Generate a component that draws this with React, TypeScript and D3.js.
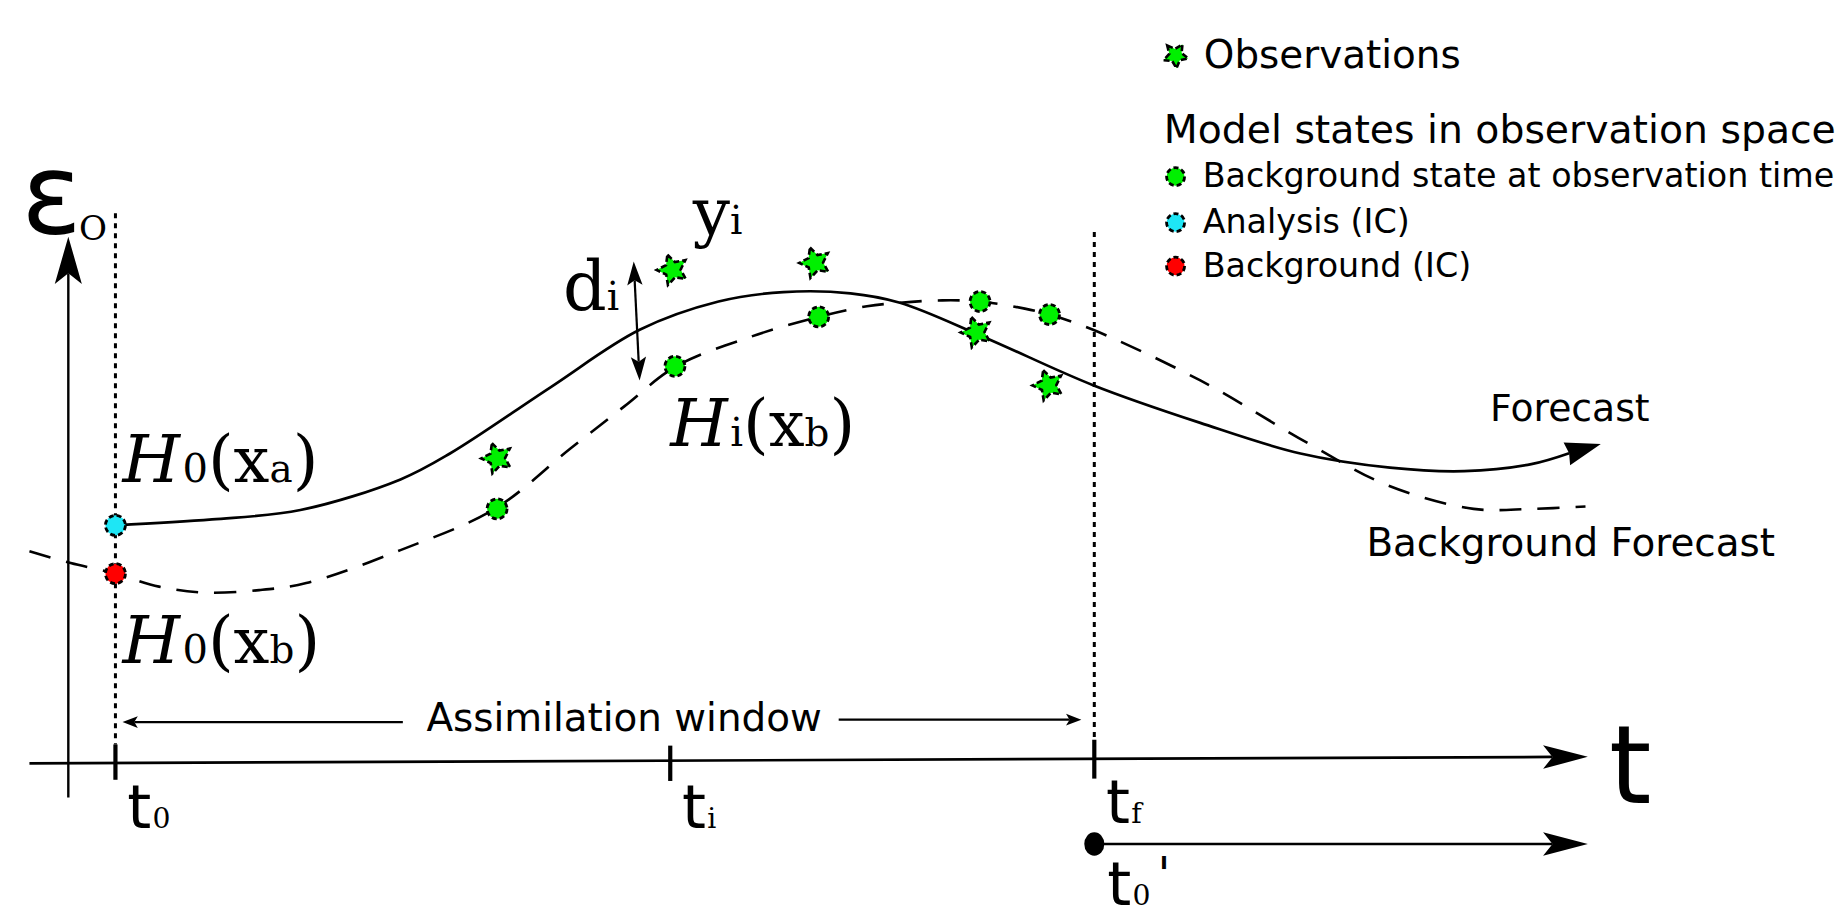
import React from 'react';
import * as d3 from 'd3';

const W = 1847;
const H = 907;
// the sketch was laid out on a 1568 x 770 grid, scales map it to the page
const GRID_W = 1568;
const GRID_H = 770;

// times on the t axis
const tickTimes = [98, 569, 929];
const tickSubs = ['0', 'i', 'f'];
const tickTops = [632, 633, 628];
const tickBottoms = [662, 663, 661];
const labelBaselines = [703, 703, 699];

// model trajectories (time, level)
const analysisCurve: [number, number][] = [
  [98, 446], [180, 441], [255, 433], [340, 407], [382, 385], [467, 329],
  [543, 280], [610, 256], [665, 248], [722, 249], [764, 257], [835, 286],
  [928, 327], [1019, 359], [1104, 385], [1180, 397], [1243, 400],
  [1300, 394], [1359, 377],
];
const backgroundCurve: [number, number][] = [
  [25, 468], [60, 478], [98, 487], [135, 498], [173, 503], [220, 501],
  [260, 495], [340, 467], [420, 432], [484, 381], [530, 345], [574, 311],
  [637, 286], [695, 269], [736, 260], [764, 257], [800, 255], [832, 256],
  [870, 262], [891, 267], [928, 280], [1019, 323], [1110, 376],
  [1178, 412], [1251, 432], [1300, 432], [1346, 430],
];

const observations: [number, number][] = [
  [422, 389], [571, 229], [692, 223], [829, 282], [890, 327],
];
const backgroundAtObs: [number, number][] = [
  [422, 432], [573, 311], [695, 269], [832, 256], [891, 267],
];
const analysisIC: [number, number] = [98, 446];
const backgroundIC: [number, number] = [98, 487];

const legendRows = ['Background state at observation time', 'Analysis (IC)', 'Background (IC)'];
const legendColors = ['#00f000', '#1ee6f5', '#ff0000'];
const legendRowY = [150, 189, 226];

const x = d3.scaleLinear().domain([0, GRID_W]).range([0, W]);
const y = d3.scaleLinear().domain([0, GRID_H]).range([0, H]);
const k = W / GRID_W;
const fs = (n: number) => n * k;

const SANS = 'DejaVu Sans';
const SERIF = 'DejaVu Serif';

const curve = d3
  .line<[number, number]>()
  .x(d => x(d[0]))
  .y(d => y(d[1]))
  .curve(d3.curveCatmullRom.alpha(0.5));

// arrow head with tip at `tip`, pointing away from `from` (grid units)
const arrowHead = (tip: number[], from: number[], len: number, half: number, notch: number) => {
  const tx = x(tip[0]), ty = y(tip[1]);
  const dx = tx - x(from[0]), dy = ty - y(from[1]);
  const n = Math.hypot(dx, dy);
  const ux = dx / n, uy = dy / n;
  const px = -uy, py = ux;
  const L = len * k, h = half * k, nt = notch * k;
  const bx = tx - ux * L, by = ty - uy * L;
  const nx = tx - ux * (L - nt), ny = ty - uy * (L - nt);
  return {
    d: `M${tx},${ty}L${bx + px * h},${by + py * h}L${nx},${ny}L${bx - px * h},${by - py * h}Z`,
    back: [nx, ny],
  };
};

// five pointed star, fatter than d3.symbolStar
const starPath = (R: number) =>
  d3
    .lineRadial<number>()
    .angle(i => (i * Math.PI) / 5)
    .radius(i => (i % 2 === 0 ? R : R * 0.5))
    .curve(d3.curveLinearClosed)(d3.range(10)) as string;

const Arrow = ({ from, tip, len, half, notch, width = 2.4 }) => {
  const a = arrowHead(tip, from, len, half, notch);
  return (
    <g>
      <line x1={x(from[0])} y1={y(from[1])} x2={a.back[0]} y2={a.back[1]} stroke="#000" strokeWidth={width} />
      <path d={a.d} fill="#000" />
    </g>
  );
};

const Dot = ({ p, color, r = 10 }) => (
  <circle cx={x(p[0])} cy={y(p[1])} r={r} fill={color} stroke="#000" strokeWidth={2.8} strokeDasharray="5 3" />
);

const Star = ({ p, R = 16, rot = -19 }) => (
  <path
    d={starPath(R)}
    transform={`translate(${x(p[0])},${y(p[1])}) rotate(${rot})`}
    fill="#00f000"
    stroke="#000"
    strokeWidth={2.6}
    strokeDasharray="6 3"
    strokeLinejoin="miter"
  />
);

// H_sub(x_arg) written with big glyphs and small subscripts on one baseline
const HLabel = ({ at, sub, arg }) => (
  <text x={x(at[0])} y={y(at[1])} fontFamily={SERIF} fill="#000">
    <tspan fontStyle="italic" fontSize={fs(56)}>H</tspan>
    <tspan fontSize={fs(34)} dx={fs(2)}>{sub}</tspan>
    <tspan fontSize={fs(56)}>(</tspan>
    <tspan fontSize={fs(54)}>x</tspan>
    <tspan fontSize={fs(33)}>{arg}</tspan>
    <tspan fontSize={fs(56)}>)</tspan>
  </text>
);

const TLabel = ({ at, sub, prime = false }) => (
  <text x={x(at[0])} y={y(at[1])} fill="#000">
    <tspan fontFamily={SANS} fontSize={fs(52)}>t</tspan>
    <tspan fontFamily={SERIF} fontSize={fs(24)} dx={fs(1)}>{sub}</tspan>
    {prime && <tspan fontFamily={SANS} fontSize={fs(40)} dx={fs(6)} dy={fs(-12)}>'</tspan>}
  </text>
);

export default function App() {
  const fcHead = arrowHead(analysisCurve[analysisCurve.length - 1], analysisCurve[analysisCurve.length - 2], 30, 10, 2);

  return (
    <svg width={W} height={H} style={{ position: 'absolute', left: 0, top: 0, background: '#fff' }}>
      <rect width={W} height={H} fill="#fff" />

      {/* vertical axis */}
      <Arrow from={[58, 677]} tip={[58, 201]} len={40} half={11.5} notch={9} />
      <text x={x(18)} y={y(198)} fontFamily={SANS} fontSize={fs(95)} fill="#000">ε</text>
      <text x={x(67)} y={y(204)} fontFamily={SERIF} fontSize={fs(29)} fill="#000">O</text>

      {/* dotted window bounds */}
      <line x1={x(tickTimes[0])} y1={y(181)} x2={x(tickTimes[0])} y2={y(632)} stroke="#000" strokeWidth={3} strokeDasharray="5 5" />
      <line x1={x(tickTimes[2])} y1={y(197)} x2={x(tickTimes[2])} y2={y(628)} stroke="#000" strokeWidth={3} strokeDasharray="5 5" />

      {/* time axis */}
      <Arrow from={[25, 648]} tip={[1348, 642.5]} len={38} half={10} notch={8} width={2.7} />
      {tickTimes.map((t, i) => (
        <line key={'tick' + i} x1={x(t)} y1={y(tickTops[i])} x2={x(t)} y2={y(tickBottoms[i])} stroke="#000" strokeWidth={4.2} />
      ))}
      {tickTimes.map((t, i) => (
        <TLabel key={'tl' + i} at={[t + 10, labelBaselines[i]]} sub={tickSubs[i]} />
      ))}
      <text x={x(1366)} y={y(682)} fontFamily={SANS} fontSize={fs(92)} fill="#000">t</text>

      {/* next cycle */}
      <Arrow from={[929, 716.5]} tip={[1348, 716.5]} len={38} half={10} notch={8} width={2.7} />
      <ellipse cx={x(929)} cy={y(716.5)} rx={fs(8.5)} ry={fs(10)} fill="#000" />
      <TLabel at={[940, 768]} sub="0" prime />

      {/* assimilation window */}
      <Arrow from={[342, 613]} tip={[104, 613]} len={13} half={5} notch={3} width={2.2} />
      <Arrow from={[712, 611]} tip={[918, 611]} len={13} half={5} notch={3} width={2.2} />
      <text x={x(362)} y={y(621)} fontFamily={SANS} fontSize={fs(33)} fill="#000">Assimilation window</text>

      {/* trajectories */}
      <path d={curve(backgroundCurve) as string} fill="none" stroke="#000" strokeWidth={2.6} strokeDasharray="22 16" />
      <path d={curve(analysisCurve.slice(0, -1).concat([[
        x.invert(fcHead.back[0]), y.invert(fcHead.back[1]),
      ]])) as string} fill="none" stroke="#000" strokeWidth={2.7} />
      <path d={fcHead.d} fill="#000" />

      {/* innovation */}
      <g>
        {(() => {
          const top = arrowHead([538, 222], [543, 323], 20, 6.5, 4);
          const bot = arrowHead([543, 323], [538, 222], 20, 6.5, 4);
          return (
            <>
              <line x1={top.back[0]} y1={top.back[1]} x2={bot.back[0]} y2={bot.back[1]} stroke="#000" strokeWidth={2.2} />
              <path d={top.d} fill="#000" />
              <path d={bot.d} fill="#000" />
            </>
          );
        })()}
      </g>

      {backgroundAtObs.map((p, i) => <Dot key={'bo' + i} p={p} color={legendColors[0]} />)}
      {observations.map((p, i) => <Star key={'ob' + i} p={p} />)}
      <Dot p={analysisIC} color={legendColors[1]} />
      <Dot p={backgroundIC} color={legendColors[2]} />

      {/* math labels */}
      <HLabel at={[104, 409]} sub="0" arg="a" />
      <HLabel at={[104, 563]} sub="0" arg="b" />
      <HLabel at={[569, 379]} sub="i" arg="b" />
      <text x={x(588)} y={y(199)} fontFamily={SERIF} fill="#000">
        <tspan fontSize={fs(56)}>y</tspan>
        <tspan fontSize={fs(33)}>i</tspan>
      </text>
      <text x={x(478)} y={y(263)} fontFamily={SERIF} fill="#000">
        <tspan fontSize={fs(58)}>d</tspan>
        <tspan fontSize={fs(33)}>i</tspan>
      </text>

      <text x={x(1265)} y={y(357)} fontFamily={SANS} fontSize={fs(32)} fill="#000">Forecast</text>
      <text x={x(1160)} y={y(472)} fontFamily={SANS} fontSize={fs(33)} fill="#000">Background Forecast</text>

      {/* legend */}
      <Star p={[998, 47]} R={13} rot={-40} />
      <text x={x(1022)} y={y(58)} fontFamily={SANS} fontSize={fs(33)} fill="#000">Observations</text>
      <text x={x(988)} y={y(121)} fontFamily={SANS} fontSize={fs(33.4)} fill="#000">Model states in observation space</text>
      {legendRows.map((label, i) => (
        <g key={'lg' + i}>
          <Dot p={[998, legendRowY[i]]} color={legendColors[i]} r={9} />
          <text x={x(1021)} y={y(legendRowY[i] + 9)} fontFamily={SANS} fontSize={fs(28.3)} fill="#000">{label}</text>
        </g>
      ))}
    </svg>
  );
}
